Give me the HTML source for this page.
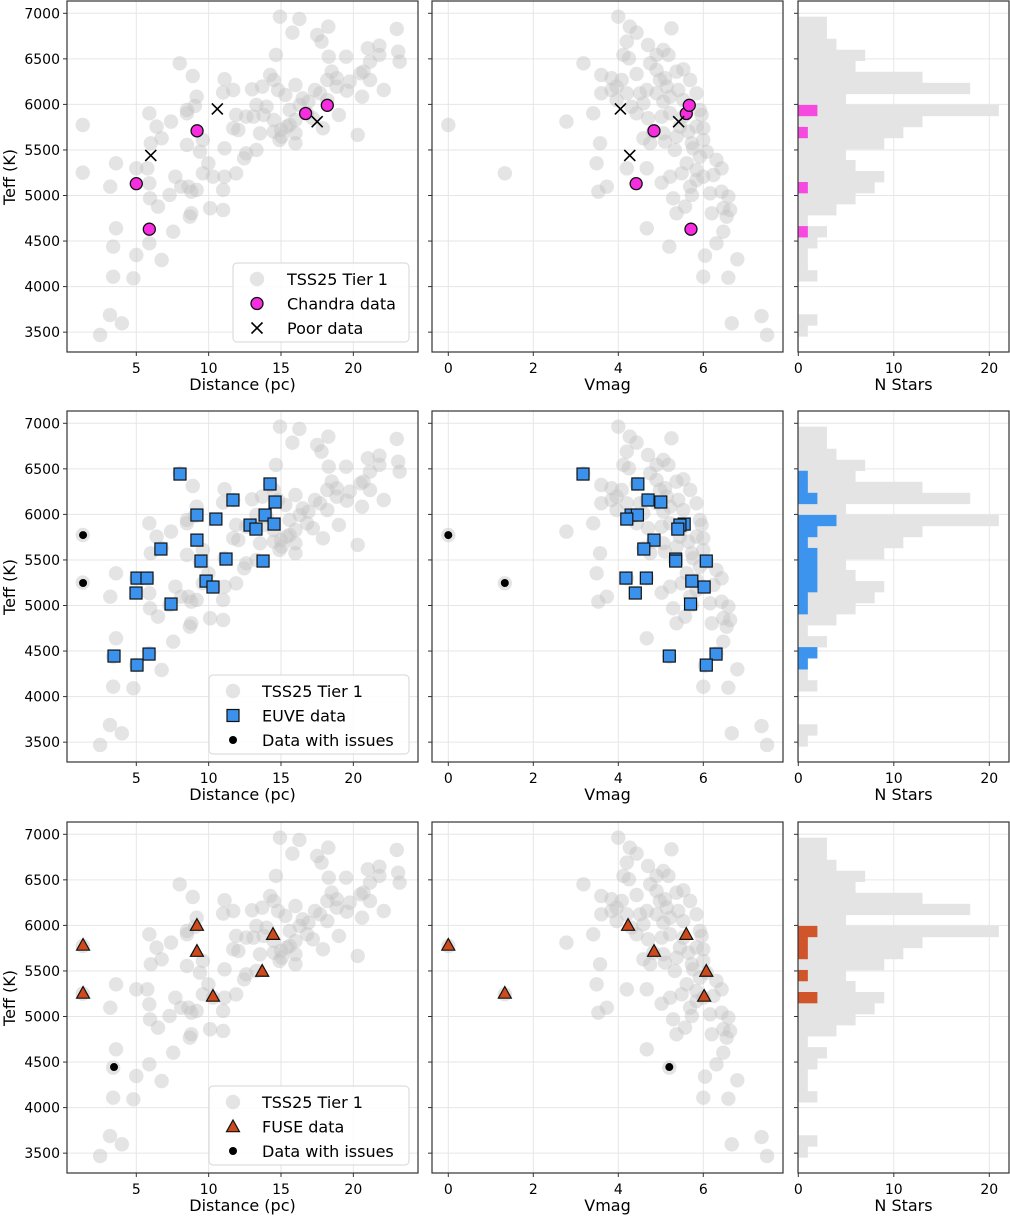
<!DOCTYPE html>
<html><head><meta charset="utf-8">
<style>
html,body{margin:0;padding:0;background:#fff;}
svg{display:block;font-family:"DejaVu Sans","Liberation Sans",sans-serif;}
</style></head>
<body>
<svg id="fig" width="1010" height="1217" viewBox="0 0 1010 1217" xmlns="http://www.w3.org/2000/svg"></svg>
<script>
// ---- Tier 1 sample: distance vs Teff ----
const grayDist = [14.93,16.27,15.79,18.27,17.5,17.8,23.0,21.8,21.0,21.8,23.1,23.2,21.15,19.5,18.3,14.65,8.0,8.9,11.1,11.7,11.0,13.0,13.7,14.25,14.5,14.8,15.3,16.0,16.5,17.35,18.2,18.5,18.85,19.55,20.5,21.15,22.1,20.6,19.0,17.9,20.3,17.2,15.6,14.0,13.3,12.6,11.9,14.5,15.0,14.9,16.0,15.6,12.05,13.3,12.45,11.9,11.1,9.98,10.3,11.1,9.6,9.4,9.05,9.17,8.5,8.5,7.4,6.75,5.9,6.0,3.6,5.0,5.76,5.9,5.95,6.5,7.3,7.7,8.1,8.8,9.17,10.1,11.0,8.8,11.0,8.7,7.55,3.6,3.4,5.9,5.0,6.75,3.4,4.8,1.3,1.3,3.2,3.18,4.0,2.5,13.1,13.8,16.3,16.9,16.0,14.5,15.05,15.4,16.8,17.7,18.2,18.85,19.75,20.7,12.6,13.55,16.0,11.7,9.6,8.5,8.6,6.4];
const grayDistTeff = [6963,6938,6788,6854,6762,6689,6828,6645,6616,6543,6579,6469,6469,6524,6524,6543,6451,6312,6276,6158,6130,6166,6195,6323,6268,6158,6104,6213,6067,6158,6268,6360,6195,6151,6341,6268,6158,6085,5884,5738,5665,5848,5939,5975,5994,5866,5884,5829,5719,5610,5573,5774,5719,5500,5408,5243,5518,5353,5207,5207,5244,5481,5983,6085,5902,5555,5811,5628,5902,5573,5353,5298,5298,5134,4969,4878,5006,5207,5097,5042,5061,4860,4841,4805,5061,4768,4603,4640,4439,4475,4347,4292,4109,4091,5774,5251,5097,3688,3597,3469,5866,5884,5994,6030,5829,5701,5646,5756,5902,6122,6048,6287,6250,6360,5463,5683,5683,5738,5610,5939,5097,5756];
// ---- Tier 1 sample: Vmag vs Teff ----
const grayVmag = [4.0,4.27,4.43,4.2,5.25,4.7,5.06,5.18,4.9,4.12,4.25,3.18,3.6,3.84,4.08,3.96,3.6,4.2,4.43,4.75,4.9,5.1,5.37,5.53,5.69,4.67,4.9,5.14,5.41,5.84,5.22,4.31,4.43,4.7,5.02,5.22,5.92,5.96,5.84,6.0,5.65,5.37,5.1,4.75,4.59,5.73,6.0,5.33,5.61,5.84,6.08,6.31,6.43,6.24,6.0,5.49,5.22,5.02,5.69,5.73,6.16,6.43,6.59,6.47,6.63,6.55,6.2,5.57,5.29,4.67,4.2,3.73,3.53,3.49,3.57,3.41,2.78,4.67,5.2,6.47,6.31,6.04,6.8,6.0,6.59,6.67,7.37,7.5,0.0,1.33,3.96,4.59,5.06,5.53,5.53,4.82,5.45,5.76,5.92,5.06,4.51,4.98,3.84,5.84,5.37];
const grayVmagTeff = [6963,6854,6788,6689,6835,6652,6598,6543,6543,6543,6506,6451,6323,6287,6268,6195,6122,6122,6334,6451,6378,6287,6360,6385,6268,6158,6122,6195,6158,6122,6085,5975,5902,5848,5866,5902,5939,5884,5756,5738,5701,5646,5591,5573,5628,5573,5610,5500,5353,5280,5481,5390,5298,5225,5207,5244,5207,5141,5097,5006,5024,5042,4988,4860,4841,4768,4805,4878,4969,5298,5298,5097,5042,5353,5573,5902,5811,4640,4439,4603,4475,4340,4300,4109,4098,3597,3677,3469,5774,5244,6048,6012,6030,6048,5866,5701,5756,5518,5427,5683,6122,6268,6158,5170,4805];
// ---- Histogram (29 bins, top to bottom) ----
const binTop = 6963;
const binWidth = 121;
const histAll = [3,3,4,7,6,13,18,5,21,13,11,9,5,6,9,8,6,4,1,3,2,1,1,2,0,0,0,2,1];
const histChandra = [0,0,0,0,0,0,0,0,2,0,1,0,0,0,0,1,0,0,0,1,0,0,0,0,0,0,0,0,0];
const histEuve = [0,0,0,0,1,1,2,0,4,2,1,2,2,2,2,1,1,0,0,0,2,1,0,0,0,0,0,0,0];
const histFuse = [0,0,0,0,0,0,0,0,2,1,1,0,1,0,2,0,0,0,0,0,0,0,0,0,0,0,0,0,0];
// ---- Chandra ----
const chandraDist = [5.0,5.9,9.2,16.7,18.2];
const chandraVmag = [4.42,5.71,4.84,5.6,5.67];
const chandraTeff = [5130,4630,5710,5900,5990];
const poorDist = [6.0,10.6,17.5];
const poorVmag = [4.27,4.05,5.42];
const poorTeff = [5440,5950,5810];
// ---- EUVE ----
const euveDist = [8.02,14.24,14.59,13.9,14.52,12.86,13.27,10.5,11.68,9.19,9.19,6.7,11.2,9.47,13.76,5.05,5.74,4.98,9.82,10.3,7.4,3.46,5.88,5.05];
const euveVmagTeff = [6443,6334,6158,6136,5993,5993,5949,5894,5883,5839,5718,5620,5510,5488,5488,5301,5301,5137,5268,5203,5016,4445,4467,4346];
const euveDistTeff = [6443,6334,6136,5993,5894,5883,5839,5949,6158,5993,5718,5620,5510,5488,5488,5301,5301,5137,5268,5203,5016,4445,4467,4346];
const euveVmag = [3.17,4.46,4.7,5.0,4.3,4.45,4.2,5.55,5.45,5.4,4.84,4.6,5.35,5.35,6.07,4.18,4.66,4.4,5.73,6.02,5.7,5.2,6.3,6.07];
const euveIssueDist = [1.32,1.32];
const euveIssueVmag = [0.0,1.33];
const euveIssueTeff = [5773,5247];
// ---- FUSE ----
const fuseDist = [1.32,1.32,9.19,9.19,10.3,14.45,13.7];
const fuseVmag = [0.0,1.33,4.23,4.84,6.02,5.6,6.07];
const fuseTeff = [5785,5258,6003,5718,5225,5904,5499];
const fuseIssueDist = [3.46];
const fuseIssueVmag = [5.2];
const fuseIssueTeff = [4445];

const teffTicks = [3500,4000,4500,5000,5500,6000,6500,7000];
const distTicks = [5,10,15,20];
const vmagTicks = [0,2,4,6];
const nTicks = [0,10,20];

const NS = "http://www.w3.org/2000/svg";
const svg = document.getElementById('fig');
function mk(tag, attrs, parent){
  const e = document.createElementNS(NS, tag);
  for (const k in attrs) e.setAttribute(k, attrs[k]);
  (parent||svg).appendChild(e);
  return e;
}
const rowOff = [0, 410, 821];
const panels = [
  {x0:67, x1:418, kind:'dist', sx:d=>136.3+(d-5)*14.47},
  {x0:432, x1:783, kind:'vmag', sx:v=>448.3+v*42.5},
  {x0:798, x1:1009, kind:'n', sx:n=>798.3+n*9.55}
];
const TOP=1, BOT=352;
function ty(t, r){ return rowOff[r] + 13.3 + (7000-t)*0.0911; }

function grayDots(g, xs, ts, sx, r){
  for (let i=0;i<xs.length;i++){
    const c = mk('circle',{cx:sx(xs[i]), cy:ty(ts[i],r), r:7.2, fill:'#c4c4c4', 'fill-opacity':0.45}, g);
    
    
  }
}
function circles(g, xs, ts, sx, r, fill, rad, stroke, name){
  for (let i=0;i<xs.length;i++){
    const c = mk('circle',{cx:sx(xs[i]), cy:ty(ts[i],r), r:rad, fill:fill, stroke:stroke||'none', 'stroke-width':1.3}, g);
    
    
  }
}
function crosses(g, xs, ts, sx, r){
  for (let i=0;i<xs.length;i++){
    const x=sx(xs[i]), y=ty(ts[i],r), s=5.5;
    const p = mk('path',{d:`M${x-s},${y-s}L${x+s},${y+s}M${x-s},${y+s}L${x+s},${y-s}`, stroke:'#000', 'stroke-width':1.6, fill:'none'}, g);
    
    
  }
}
function squares(g, xs, ts, sx, r){
  for (let i=0;i<xs.length;i++){
    const x=sx(xs[i]), y=ty(ts[i],r), s=6;
    const p = mk('rect',{x:x-s, y:y-s, width:2*s, height:2*s, fill:'#3a92ec', stroke:'#111', 'stroke-width':1.2}, g);
    
    
  }
}
function triangles(g, xs, ts, sx, r){
  for (let i=0;i<xs.length;i++){
    const x=sx(xs[i]), y=ty(ts[i],r), s=6.5;
    const p = mk('path',{d:`M${x},${y-s}L${x+s},${y+s*0.8}L${x-s},${y+s*0.8}Z`, fill:'#cc4a1c', stroke:'#111', 'stroke-width':1.2}, g);
    
    
  }
}
function hist(g, counts, r, fill, name){
  const sx = panels[2].sx;
  for (let i=0;i<counts.length;i++){
    if (!counts[i]) continue;
    const y0 = ty(binTop - i*binWidth, r), y1 = ty(binTop-(i+1)*binWidth, r);
    const b = mk('rect',{x:sx(0), y:y0, width:sx(counts[i])-sx(0), height:y1-y0+0.3, fill:fill}, g);
    
    
  }
}

const overlays = ['chandra','euve','fuse'];
for (let r=0;r<3;r++){
  const o = rowOff[r];
  for (let p=0;p<3;p++){
    const P = panels[p];
    const g = mk('g',{});
    
    
    const clipId = `c${r}${p}`;
    const cp = mk('clipPath',{id:clipId}, g);
    mk('rect',{x:P.x0, y:o+TOP, width:P.x1-P.x0, height:BOT-TOP}, cp);
    const ticksX = P.kind==='dist'?distTicks:(P.kind==='vmag'?vmagTicks:nTicks);
    for (const t of teffTicks){
      const y=ty(t,r);
      const l=mk('line',{x1:P.x0,x2:P.x1,y1:y,y2:y,stroke:'#e6e6e6','stroke-width':1},g);
      
      
      mk('line',{x1:P.x0-4,x2:P.x0,y1:y,y2:y,stroke:'#333','stroke-width':1},g);
      if (p===0){
        const tx=mk('text',{x:P.x0-7,y:y+5,'font-size':14,'text-anchor':'end',fill:'#000'},g);
        tx.textContent=t;
        
        
      }
    }
    for (const t of ticksX){
      const x=P.sx(t);
      const l=mk('line',{x1:x,x2:x,y1:o+TOP,y2:o+BOT,stroke:'#e6e6e6','stroke-width':1},g);
      
      
      mk('line',{x1:x,x2:x,y1:o+BOT,y2:o+BOT+4,stroke:'#333','stroke-width':1},g);
      const tx=mk('text',{x:x,y:o+BOT+21,'font-size':14,'text-anchor':'middle',fill:'#000'},g);
      tx.textContent=t;
      
      
    }
    const d = mk('g',{'clip-path':`url(#${clipId})`},g);
    if (P.kind==='dist'){
      grayDots(d, grayDist, grayDistTeff, P.sx, r);
      if (r===0){ circles(d, chandraDist, chandraTeff, P.sx, r, '#f72ee0', 6, '#111', 'chandra-data-marker'); crosses(d, poorDist, poorTeff, P.sx, r); }
      if (r===1){ squares(d, euveDist, euveDistTeff, P.sx, r); circles(d, euveIssueDist, euveIssueTeff, P.sx, r, '#000', 4, null, 'issue-data-marker'); }
      if (r===2){ triangles(d, fuseDist, fuseTeff, P.sx, r); circles(d, fuseIssueDist, fuseIssueTeff, P.sx, r, '#000', 4, null, 'issue-data-marker'); }
    } else if (P.kind==='vmag'){
      grayDots(d, grayVmag, grayVmagTeff, P.sx, r);
      if (r===0){ circles(d, chandraVmag, chandraTeff, P.sx, r, '#f72ee0', 6, '#111', 'chandra-data-marker'); crosses(d, poorVmag, poorTeff, P.sx, r); }
      if (r===1){ squares(d, euveVmag, euveVmagTeff, P.sx, r); circles(d, euveIssueVmag, euveIssueTeff, P.sx, r, '#000', 4, null, 'issue-data-marker'); }
      if (r===2){ triangles(d, fuseVmag, fuseTeff, P.sx, r); circles(d, fuseIssueVmag, fuseIssueTeff, P.sx, r, '#000', 4, null, 'issue-data-marker'); }
    } else {
      hist(d, histAll, r, '#e4e4e4', 'tier1-hist-bar');
      if (r===0) hist(d, histChandra, r, '#f549e0', 'chandra-hist-bar');
      if (r===1) hist(d, histEuve, r, '#3d94ee', 'euve-hist-bar');
      if (r===2) hist(d, histFuse, r, '#d0552b', 'fuse-hist-bar');
    }
    const fr = mk('rect',{x:P.x0,y:o+TOP,width:P.x1-P.x0,height:BOT-TOP,fill:'none',stroke:'#333','stroke-width':1.2},g);
    
    
    const xl = mk('text',{x:(P.x0+P.x1)/2,y:o+BOT+38,'font-size':16,'text-anchor':'middle',fill:'#000'},g);
    xl.textContent = P.kind==='dist'?'Distance (pc)':(P.kind==='vmag'?'Vmag':'N Stars');
    
    
  }
  const yl = mk('text',{x:0,y:0,'font-size':16,'text-anchor':'middle',fill:'#000',transform:`translate(15,${o+177}) rotate(-90)`});
  yl.textContent='Teff (K)';
  
  

  const L = r===0 ? {x:233,y:263,w:176,mx:257,tx:287,labels:['TSS25 Tier 1','Chandra data','Poor data']}
                  : {x:209,y:o+265,w:200,mx:233,tx:262,labels:['TSS25 Tier 1', r===1?'EUVE data':'FUSE data','Data with issues']};
  const lg = mk('g',{});
  
  
  mk('rect',{x:L.x,y:L.y,width:L.w,height:79,rx:4,fill:'#fff','fill-opacity':0.85,stroke:'#d6d6d6','stroke-width':1},lg);
  for (let k=0;k<3;k++){
    const yy = L.y+16+k*24.5;
    const eg = mk('g',{},lg);
    
    
    if (k===0) mk('circle',{cx:L.mx,cy:yy,r:7.2,fill:'#c4c4c4','fill-opacity':0.45},eg);
    else if (r===0 && k===1) mk('circle',{cx:L.mx,cy:yy,r:6,fill:'#f72ee0',stroke:'#111','stroke-width':1.3},eg);
    else if (r===0 && k===2) mk('path',{d:`M${L.mx-5.5},${yy-5.5}L${L.mx+5.5},${yy+5.5}M${L.mx-5.5},${yy+5.5}L${L.mx+5.5},${yy-5.5}`,stroke:'#000','stroke-width':1.6},eg);
    else if (r===1 && k===1) mk('rect',{x:L.mx-6,y:yy-6,width:12,height:12,fill:'#3a92ec',stroke:'#111','stroke-width':1.2},eg);
    else if (r===2 && k===1) mk('path',{d:`M${L.mx},${yy-6.5}L${L.mx+6.5},${yy+5.2}L${L.mx-6.5},${yy+5.2}Z`,fill:'#cc4a1c',stroke:'#111','stroke-width':1.2},eg);
    else mk('circle',{cx:L.mx,cy:yy,r:4,fill:'#000'},eg);
    const t = mk('text',{x:L.tx,y:yy+6,'font-size':16,fill:'#000'},eg);
    t.textContent = L.labels[k];
  }
}
</script>
</body></html>
